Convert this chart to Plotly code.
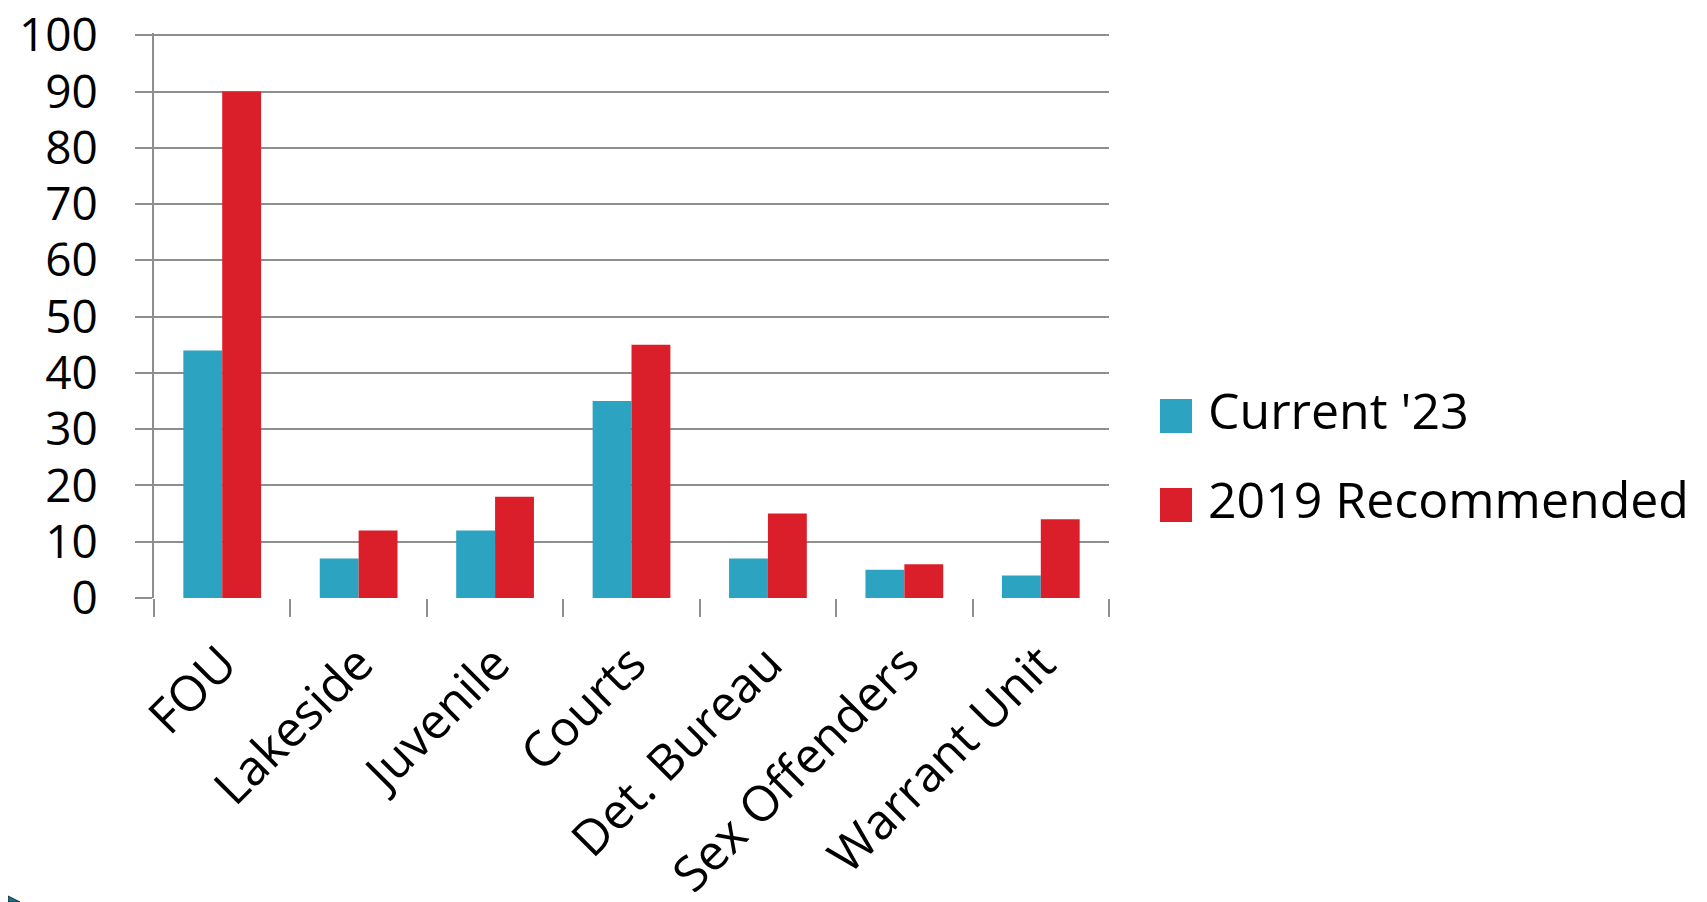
import plotly.graph_objects as go

categories = ["FOU", "Lakeside", "Juvenile", "Courts", "Det. Bureau", "Sex Offenders", "Warrant Unit"]
current_23 = [44, 7, 12, 35, 7, 5, 4]
recommended_2019 = [90, 12, 18, 45, 15, 6, 14]
series_names = ["Current '23", "2019 Recommended"]
y_ticks = [0, 10, 20, 30, 40, 50, 60, 70, 80, 90, 100]

TEAL = "#2ca3c1"
RED = "#db1f2a"
GRID = "#8e8e8e"
FONT = "Open Sans"

W, H = 1707, 902
OFF = 8  # page body margin
L, R, T, B = 154 - OFF, 1109 - OFF, 33 - OFF, 598 - OFF
Y_TOP = 100.4


def px(x, y):
    # screen pixel position -> paper coordinates
    return (x - OFF - L) / (R - L), (B - (y - OFF)) / (B - T)


fig = go.Figure()
fig.add_trace(go.Bar(x=categories, y=current_23, name=series_names[0], marker=dict(color=TEAL, line_width=0)))
fig.add_trace(go.Bar(x=categories, y=recommended_2019, name=series_names[1], marker=dict(color=RED, line_width=0)))

# legend drawn by hand so the swatches can be as large as the original
legend_rows = [(TEAL, series_names[0], 416), (RED, series_names[1], 505)]
for color, label, cy in legend_rows:
    x0, y0 = px(1160, cy + 17)
    x1, y1 = px(1192, cy - 17)
    fig.add_shape(type="rect", xref="paper", yref="paper", x0=x0, y0=y0, x1=x1, y1=y1,
                  fillcolor=color, line_width=0)
    tx, ty = px(1206, cy - 6)
    fig.add_annotation(xref="paper", yref="paper", x=tx, y=ty, text=label, showarrow=False,
                       xanchor="left", yanchor="middle", font=dict(family=FONT, size=50, color="black"))

# small corner decoration from the slide
ax, ay = px(OFF, 896)
bx, by = px(20, 902)
cx, cy2 = px(OFF, 902)
fig.add_shape(type="path", xref="paper", yref="paper",
              path=f"M {ax},{ay} L {bx},{by} L {cx},{cy2} Z",
              fillcolor="#1f6f86", line=dict(color="#0b3440", width=1))

fig.update_layout(
    width=W,
    height=H,
    barmode="group",
    bargap=0.43,
    bargroupgap=0,
    showlegend=False,
    plot_bgcolor="white",
    paper_bgcolor="white",
    margin=dict(l=L, r=W - R, t=T, b=H - B, pad=0),
    font=dict(family=FONT, size=46, color="black"),
)
fig.update_xaxes(
    automargin=False,
    tickangle=-45,
    ticks="outside",
    tickson="boundaries",
    ticklen=18,
    tickwidth=2,
    tickcolor=GRID,
    showgrid=False,
    showline=False,
    zeroline=False,
    ticklabelstandoff=26,
    tickfont=dict(family=FONT, size=49),
)
fig.update_yaxes(
    automargin=False,
    range=[0, Y_TOP],
    tickvals=y_ticks,
    ticks="outside",
    ticklen=17,
    tickwidth=2,
    tickcolor=GRID,
    showgrid=True,
    gridcolor=GRID,
    gridwidth=2,
    showline=True,
    linecolor=GRID,
    linewidth=2,
    zeroline=False,
    ticklabelstandoff=28,
    ticklabeloverflow="allow",
    tickfont=dict(family=FONT, size=46),
)

fig.write_html("out.html")
